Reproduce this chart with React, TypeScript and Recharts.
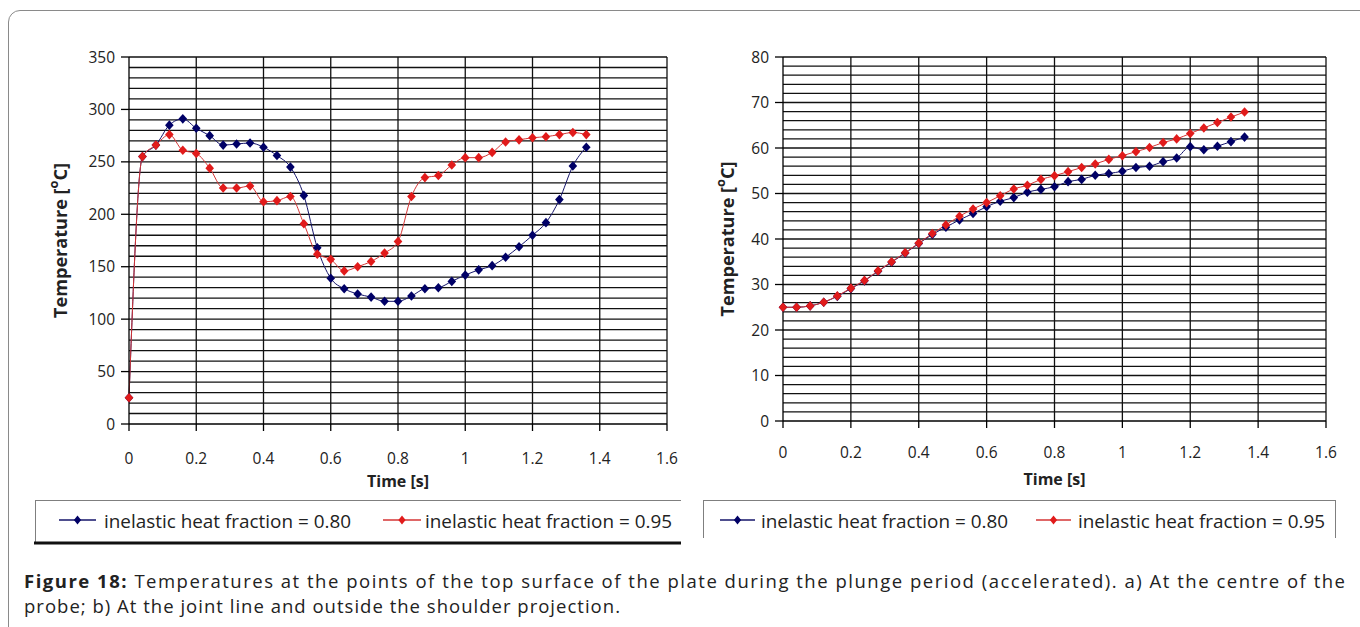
import React from "react";
import { LineChart, Line, XAxis, YAxis, ReferenceLine, Label } from "recharts";

// Sampling instants of the plunge period [s]
const times = [
  0, 0.04, 0.08, 0.12, 0.16, 0.2, 0.24, 0.28, 0.32, 0.36, 0.4, 0.44, 0.48, 0.52,
  0.56, 0.6, 0.64, 0.68, 0.72, 0.76, 0.8, 0.84, 0.88, 0.92, 0.96, 1, 1.04, 1.08,
  1.12, 1.16, 1.2, 1.24, 1.28, 1.32, 1.36,
];

// a) centre of the probe [°C]
const centreF080 = [
  25, 255, 266, 285, 291, 282, 275, 266, 267, 268, 264, 256, 245, 218, 168, 139,
  129, 124, 121, 117, 117, 122, 129, 130, 136, 142, 147, 151, 159, 169, 180, 192,
  214, 246, 264,
];
const centreF095 = [
  25, 255, 266, 276, 261, 258, 244, 225, 225, 227, 212, 213, 217, 191, 162, 157,
  146, 150, 155, 163, 174, 217, 235, 237, 247, 254, 254, 259, 269, 271, 273, 274,
  276, 278, 276,
];

// b) joint line, outside the shoulder projection [°C]
const jointF080 = [
  25, 25, 25.3, 26.1, 27.4, 29.1, 30.8, 32.9, 34.9, 36.9, 39.0, 41.0, 42.6, 44.2,
  45.6, 47.1, 48.3, 49.1, 50.3, 50.9, 51.5, 52.6, 53.1, 54.0, 54.4, 54.9, 55.7,
  56.0, 57.0, 57.8, 60.3, 59.6, 60.4, 61.4, 62.4,
];
const jointF095 = [
  25, 25, 25.3, 26.1, 27.5, 29.2, 30.9, 33.0, 35.0, 37.0, 39.1, 41.2, 43.1, 45.0,
  46.6, 48.0, 49.5, 51.0, 51.8, 53.1, 53.9, 54.8, 55.7, 56.5, 57.5, 58.3, 59.2,
  60.1, 61.2, 62.0, 63.2, 64.4, 65.6, 66.8, 67.9,
];

const timeTicks = [0, 0.2, 0.4, 0.6, 0.8, 1, 1.2, 1.4, 1.6];
const centreTempTicks = [0, 50, 100, 150, 200, 250, 300, 350];
const jointTempTicks = [0, 10, 20, 30, 40, 50, 60, 70, 80];

const seriesNames = ["inelastic heat fraction = 0.80", "inelastic heat fraction = 0.95"];
const markerColors = ["#000066", "#e11b1b"];
const lineColors = ["#14146a", "#d53434"];

const FONT = "'Open Sans', 'Noto Sans', sans-serif";
const INK = "#222";

function buildRows(a: number[], b: number[]) {
  return times.map((t, i) => ({ t, f080: a[i], f095: b[i] }));
}

function gridSteps(step: number, max: number) {
  const out: number[] = [];
  for (let k = 1; k * step <= max + 1e-9; k++) out.push(Math.round(k * step * 1000) / 1000);
  return out;
}

const diamond = (color: string) => (props: any) => {
  const { cx, cy, index } = props;
  if (cx == null || cy == null) return <g key={`n-${index}`} />;
  return (
    <path
      key={`d-${index}`}
      d={`M${cx},${cy - 4.8}L${cx + 4.3},${cy}L${cx},${cy + 4.8}L${cx - 4.3},${cy}Z`}
      fill={color}
    />
  );
};

type ChartProps = {
  rows: { t: number; f080: number; f095: number }[];
  yMax: number;
  yTicks: number[];
  minorStep: number;
  width: number;
  height: number;
  margin: { top: number; right: number; bottom: number; left: number };
  yAxisWidth: number;
  xTickMargin: number;
  xTitleDy: number;
  yTitleX: number;
};

function TempChart(p: ChartProps) {
  const horizontal = gridSteps(p.minorStep, p.yMax);
  const vertical = timeTicks.slice(1);
  const tickStyle = { fill: INK, fontSize: 15.5, fontFamily: FONT };

  const xTitle = (lp: any) => {
    const vb = lp.viewBox || {};
    return (
      <text
        x={vb.x + vb.width / 2}
        y={vb.y + p.xTitleDy}
        textAnchor="middle"
        dominantBaseline="central"
        fontFamily={FONT}
        fontWeight={700}
        fontSize={16}
        fill={INK}
      >
        Time [s]
      </text>
    );
  };

  const yTitle = (lp: any) => {
    const vb = lp.viewBox || {};
    const cy = vb.y + vb.height / 2;
    return (
      <text
        transform={`translate(${p.yTitleX},${cy}) rotate(-90)`}
        textAnchor="middle"
        dominantBaseline="central"
        fontFamily={FONT}
        fontWeight={700}
        fontSize={17}
        fill={INK}
        textLength={155}
        lengthAdjust="spacingAndGlyphs"
      >
        Temperature [<tspan dy={-7} fontSize={12}>o</tspan>
        <tspan dy={7}>C]</tspan>
      </text>
    );
  };

  return (
    <LineChart width={p.width} height={p.height} data={p.rows} margin={p.margin}>
      <XAxis
        dataKey="t"
        type="number"
        domain={[0, 1.6]}
        ticks={timeTicks}
        interval={0}
        tickFormatter={(v: number) => String(v)}
        tick={tickStyle}
        tickSize={7}
        tickMargin={p.xTickMargin}
        axisLine={{ stroke: "#000", strokeWidth: 1.3 }}
        tickLine={{ stroke: "#000", strokeWidth: 1.3 }}
        height={60}
      >
        <Label content={xTitle} />
      </XAxis>
      <YAxis
        type="number"
        domain={[0, p.yMax]}
        ticks={p.yTicks}
        interval={0}
        tick={tickStyle}
        tickSize={8}
        tickMargin={6}
        axisLine={{ stroke: "#000", strokeWidth: 1.3 }}
        tickLine={{ stroke: "#000", strokeWidth: 1.3 }}
        width={p.yAxisWidth}
      >
        <Label content={yTitle} />
      </YAxis>
      {horizontal.map((v) => (
        <ReferenceLine key={`h${v}`} y={v} stroke="#111" strokeWidth={1.3} />
      ))}
      {vertical.map((v) => (
        <ReferenceLine key={`v${v}`} x={v} stroke="#111" strokeWidth={1.3} />
      ))}
      <Line
        dataKey="f080"
        name={seriesNames[0]}
        type="monotone"
        stroke={lineColors[0]}
        strokeWidth={1}
        dot={diamond(markerColors[0])}
        activeDot={false}
        isAnimationActive={false}
      />
      <Line
        dataKey="f095"
        name={seriesNames[1]}
        type="monotone"
        stroke={lineColors[1]}
        strokeWidth={1}
        dot={diamond(markerColors[1])}
        activeDot={false}
        isAnimationActive={false}
      />
    </LineChart>
  );
}

function LegendRow({ items }: { items: { lineFrom: number; lineTo: number; textX: number }[] }) {
  return (
    <g>
      {items.map((it, i) => {
        const mid = (it.lineFrom + it.lineTo) / 2;
        return (
          <g key={i}>
            <line x1={it.lineFrom} x2={it.lineTo} y1={520} y2={520} stroke={lineColors[i]} strokeWidth={1.3} />
            <path d={`M${mid},${515.5}L${mid + 3.6},520L${mid},${524.5}L${mid - 3.6},520Z`} fill={markerColors[i]} />
            <text
              x={it.textX}
              y={520}
              dominantBaseline="central"
              fontFamily={FONT}
              fontSize={18.5}
              fill={INK}
              textLength={247}
              lengthAdjust="spacingAndGlyphs"
            >
              {seriesNames[i]}
            </text>
          </g>
        );
      })}
    </g>
  );
}

export default function App() {
  return (
    <div
      style={{
        position: "fixed",
        left: 0,
        top: 0,
        width: 1360,
        height: 627,
        overflow: "hidden",
        background: "#fff",
      }}
    >
      <div
        style={{
          position: "absolute",
          left: 8,
          top: 10,
          width: 1420,
          height: 720,
          border: "1.5px solid #8a8a8a",
          borderRadius: 12,
          boxSizing: "border-box",
        }}
      />
      <div style={{ position: "absolute", left: 0, top: 0 }}>
        <TempChart
          rows={buildRows(centreF080, centreF095)}
          yMax={350}
          yTicks={centreTempTicks}
          minorStep={10}
          width={690}
          height={500}
          margin={{ top: 57, right: 23, bottom: 16, left: 0 }}
          yAxisWidth={129}
          xTickMargin={22}
          xTitleDy={57}
          yTitleX={60}
        />
      </div>
      <div style={{ position: "absolute", left: 690, top: 0 }}>
        <TempChart
          rows={buildRows(jointF080, jointF095)}
          yMax={80}
          yTicks={jointTempTicks}
          minorStep={2}
          width={670}
          height={500}
          margin={{ top: 57, right: 34, bottom: 19, left: 0 }}
          yAxisWidth={93}
          xTickMargin={19}
          xTitleDy={58}
          yTitleX={37}
        />
      </div>
      <svg
        width={1360}
        height={627}
        style={{ position: "absolute", left: 0, top: 0, pointerEvents: "none" }}
      >
        {/* legend frames */}
        <line x1={35} x2={681} y1={500.5} y2={500.5} stroke="#7f7f7f" strokeWidth={1} />
        <line x1={35.5} x2={35.5} y1={500} y2={542} stroke="#7f7f7f" strokeWidth={1} />
        <line x1={34} x2={681} y1={543} y2={543} stroke="#111" strokeWidth={3} />
        <line x1={703} x2={1336} y1={500.5} y2={500.5} stroke="#7f7f7f" strokeWidth={1} />
        <line x1={703.5} x2={703.5} y1={500} y2={538} stroke="#7f7f7f" strokeWidth={1} />
        <line x1={1335.5} x2={1335.5} y1={500} y2={538} stroke="#7f7f7f" strokeWidth={1} />
        <LegendRow
          items={[
            { lineFrom: 59, lineTo: 96, textX: 104 },
            { lineFrom: 383, lineTo: 421, textX: 425 },
          ]}
        />
        <LegendRow
          items={[
            { lineFrom: 720, lineTo: 755, textX: 761 },
            { lineFrom: 1036, lineTo: 1071, textX: 1078 },
          ]}
        />
        {/* caption */}
        <text
          x={24}
          y={588}
          fontFamily={FONT}
          fontSize={18.5}
          fill={INK}
          textLength={1321}
          lengthAdjust="spacing"
        >
          <tspan fontWeight={700}>Figure 18:</tspan> Temperatures at the points of the top surface of
          the plate during the plunge period (accelerated). a) At the centre of the
        </text>
        <text x={24} y={613} fontFamily={FONT} fontSize={18.5} fill={INK} textLength={596} lengthAdjust="spacing">
          probe; b) At the joint line and outside the shoulder projection.
        </text>
      </svg>
    </div>
  );
}
